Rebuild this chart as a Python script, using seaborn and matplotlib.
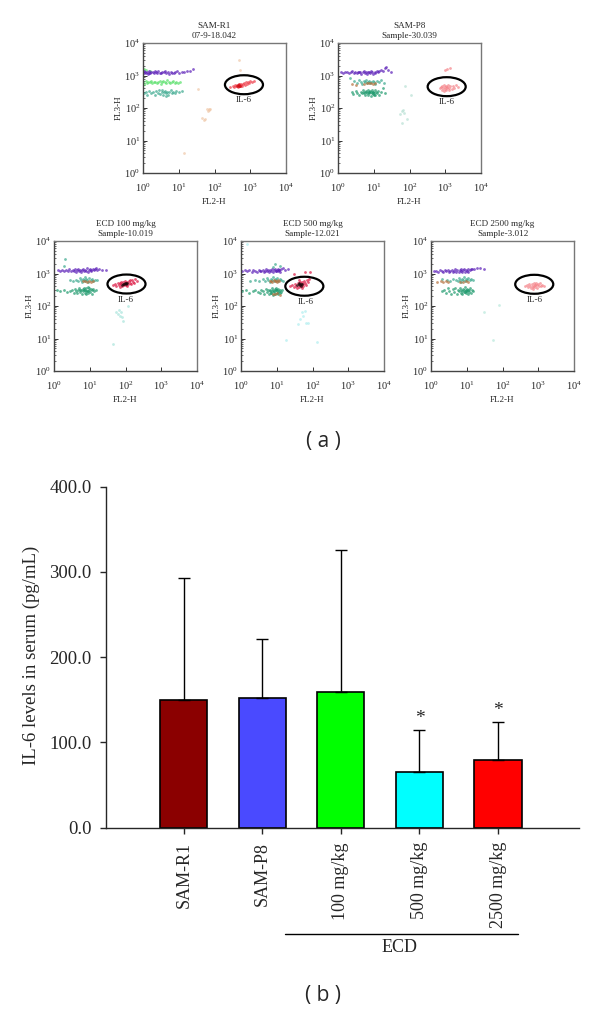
import matplotlib
matplotlib.use("Agg")
import matplotlib.pyplot as plt
import pandas as pd
import seaborn as sns
from matplotlib.patches import Ellipse
from matplotlib.lines import Line2D

# panel (a), dot clusters
r1_purple_x = [1.0, 1.05, 1.1, 1.15, 1.2, 1.3, 1.35, 1.45, 1.5, 1.6, 1.7, 1.85, 2.0, 2.1, 2.3, 2.4, 2.7, 2.9, 3.1, 3.4, 3.8, 4.1, 4.5, 5.0, 5.4, 6.0, 6.6, 7.2, 8.0, 9.0, 10, 12, 14, 17, 20, 25]
r1_purple_y = [1250, 1400, 1180, 1320, 1210, 1280, 1150, 1350, 1230, 1190, 1300, 1240, 1170, 1420, 1260, 1200, 1330, 1220, 1160, 1290, 1240, 1380, 1200, 1270, 1150, 1310, 1230, 1190, 1260, 1340, 1220, 1300, 1280, 1420, 1380, 1550]
r1_mid_x = [1.0, 1.1, 1.2, 1.3, 1.4, 1.55, 1.7, 1.8, 2.0, 2.2, 2.4, 2.6, 2.9, 3.1, 3.4, 3.7, 4.0, 4.4, 4.8, 5.2, 5.7, 6.3, 7.0, 7.8, 8.6, 9.5, 11, 1.2, 1.6, 1.1]
r1_mid_y = [620, 560, 660, 590, 640, 610, 680, 570, 620, 650, 590, 630, 700, 560, 610, 660, 620, 590, 720, 640, 580, 620, 690, 600, 640, 580, 620, 1500, 1420, 1600]
r1_low_x = [1.05, 1.2, 1.3, 1.5, 1.7, 1.9, 2.1, 2.3, 2.6, 2.8, 3.0, 3.3, 3.6, 3.9, 4.2, 4.5, 4.8, 5.1, 5.5, 5.9, 6.4, 7.0, 7.7, 8.6, 10, 12, 3.4, 4.4]
r1_low_y = [290, 310, 260, 330, 280, 300, 250, 340, 290, 360, 270, 310, 260, 300, 340, 280, 320, 260, 300, 350, 280, 320, 290, 340, 300, 330, 370, 240]
r1_il6_x = [280, 320, 350, 370, 400, 420, 440, 460, 470, 490, 500, 520, 540, 560, 590, 620, 660, 700, 750, 800, 860, 930, 1000, 1100, 1300, 480, 510, 450]
r1_il6_y = [430, 470, 440, 500, 460, 520, 480, 450, 530, 490, 540, 470, 510, 560, 490, 540, 580, 520, 620, 560, 640, 600, 680, 630, 700, 500, 470, 490]
r1_core_x = [430, 460, 480, 500, 520]
r1_core_y = [480, 500, 470, 520, 490]
r1_stray_x = [60, 65, 70, 72, 75, 45, 55, 50, 14, 35, 500, 520]
r1_stray_y = [90, 80, 95, 85, 90, 50, 45, 42, 4, 380, 3000, 1500]

p8_purple_x = [1.2, 1.4, 1.6, 1.8, 2.0, 2.3, 2.5, 2.8, 3.0, 3.3, 3.6, 3.9, 4.2, 4.5, 4.9, 5.3, 5.7, 6.1, 6.6, 7.0, 7.5, 8.0, 8.6, 9.2, 9.8, 10.5, 11, 12, 13, 14, 16, 18, 20, 22, 25, 30]
p8_purple_y = [1280, 1230, 1320, 1250, 1200, 1290, 1350, 1220, 1270, 1180, 1320, 1240, 1290, 1150, 1260, 1340, 1200, 1280, 1130, 1310, 1240, 1180, 1330, 1260, 1150, 1290, 1210, 1350, 1260, 1400, 1500, 1350, 1650, 1800, 1450, 1250]
p8_mid_x = [2.2, 2.8, 3.3, 3.8, 4.3, 4.8, 5.2, 5.6, 6.0, 6.4, 6.9, 7.4, 8.0, 8.6, 9.3, 10, 11, 12, 14, 16, 19]
p8_mid_y = [820, 680, 600, 740, 640, 560, 680, 610, 720, 590, 650, 700, 570, 630, 680, 610, 560, 660, 620, 720, 580]
p8_brown_x = [2.5, 3.2, 5.5, 6.5, 7.5, 8.5, 9.5, 11]
p8_brown_y = [560, 520, 560, 590, 570, 600, 550, 580]
p8_low_x = [2.4, 2.7, 3.1, 3.5, 3.9, 4.3, 4.6, 5.0, 5.3, 5.7, 6.0, 6.4, 6.7, 7.0, 7.3, 7.6, 8.0, 8.3, 8.6, 9.0, 9.3, 9.6, 10, 10.5, 11, 11.5, 12, 13, 14, 16, 18, 20, 7.2, 8.8, 9.4, 10.2, 6.2, 5.5]
p8_low_y = [300, 270, 330, 290, 250, 320, 280, 350, 300, 260, 330, 290, 360, 250, 310, 280, 340, 300, 230, 360, 270, 320, 290, 350, 250, 310, 280, 340, 260, 320, 400, 280, 300, 280, 320, 260, 310, 290]
p8_il6_x = [700, 750, 800, 830, 860, 900, 930, 960, 1000, 1030, 1060, 1100, 1150, 1200, 1250, 1300, 1400, 1500, 1650, 1800, 2000, 2300, 1000, 1150, 1400]
p8_il6_y = [400, 450, 360, 480, 410, 340, 520, 430, 380, 470, 350, 440, 400, 500, 360, 420, 460, 390, 480, 420, 510, 440, 1500, 1600, 1650]
p8_stray_x = [60, 55, 70, 65, 85, 75, 110, 60]
p8_stray_y = [80, 65, 70, 85, 45, 480, 260, 35]

e100_purple_x = [1.3, 1.5, 1.7, 1.9, 2.2, 2.4, 2.7, 3.0, 3.3, 3.6, 3.9, 4.2, 4.5, 4.8, 5.1, 5.5, 5.8, 6.2, 6.6, 7.0, 7.4, 7.8, 8.3, 8.8, 9.3, 9.9, 10.5, 11, 12, 13, 14, 15, 16, 18, 22, 28]
e100_purple_y = [1250, 1220, 1300, 1190, 1270, 1210, 1330, 1180, 1290, 1230, 1350, 1150, 1260, 1380, 1200, 1310, 1120, 1270, 1400, 1190, 1320, 1230, 1440, 1150, 1280, 1370, 1210, 1300, 1420, 1240, 1360, 1450, 1300, 1380, 1250, 1320]
e100_mid_x = [2.8, 3.3, 4.0, 4.7, 5.2, 5.6, 6.0, 6.4, 6.8, 7.2, 7.6, 8.1, 8.6, 9.2, 9.8, 10.5, 11.5, 12.5, 14, 16, 2.0, 1.9]
e100_mid_y = [620, 590, 650, 600, 720, 650, 560, 700, 620, 760, 590, 680, 640, 560, 720, 620, 680, 590, 650, 620, 2800, 1700]
e100_brown_x = [6.5, 7.5, 8.5, 9.5, 11, 12]
e100_brown_y = [570, 600, 560, 590, 540, 570]
e100_low_x = [1.2, 1.5, 1.9, 2.3, 2.8, 3.2, 3.6, 3.9, 4.2, 4.5, 4.8, 5.1, 5.4, 5.7, 6.0, 6.3, 6.6, 6.9, 7.2, 7.5, 7.8, 8.1, 8.4, 8.7, 9.0, 9.4, 9.8, 10.2, 10.7, 11.2, 11.8, 12.5, 13.5, 15, 7.0, 8.0, 9.2, 5.5]
e100_low_y = [300, 280, 310, 270, 290, 320, 260, 340, 290, 250, 320, 360, 270, 310, 240, 340, 290, 370, 260, 320, 230, 350, 290, 380, 250, 310, 350, 270, 330, 240, 300, 340, 280, 310, 300, 290, 280, 310]
e100_il6_x = [45, 50, 55, 60, 65, 70, 72, 76, 80, 84, 88, 92, 96, 100, 106, 112, 118, 125, 132, 140, 150, 160, 170, 185, 205, 110, 130, 75]
e100_il6_y = [430, 470, 410, 500, 440, 390, 520, 460, 410, 550, 480, 430, 580, 500, 450, 540, 490, 600, 520, 470, 620, 560, 510, 680, 580, 400, 640, 560]
e100_core_x = [78, 84, 90, 95, 100, 105, 110]
e100_core_y = [450, 490, 470, 510, 480, 500, 520]
e100_stray_x = [55, 60, 65, 75, 85, 70, 80, 45, 120]
e100_stray_y = [65, 55, 75, 65, 35, 50, 45, 7, 100]

e500_purple_x = [1.1, 1.3, 1.5, 1.7, 2.0, 2.2, 2.5, 2.8, 3.1, 3.4, 3.7, 4.0, 4.3, 4.7, 5.0, 5.4, 5.8, 6.2, 6.6, 7.0, 7.5, 8.0, 8.5, 9.0, 9.5, 10, 10.5, 11, 11.5, 12, 13, 15, 17, 20, 9.8, 11.2]
e500_purple_y = [1200, 1240, 1180, 1260, 1150, 1290, 1200, 1130, 1310, 1210, 1160, 1280, 1120, 1230, 1330, 1180, 1250, 1110, 1290, 1200, 1350, 1140, 1260, 1380, 1170, 1300, 1210, 1400, 1260, 1150, 1330, 1450, 1250, 1350, 1200, 1280]
e500_mid_x = [1.8, 2.5, 3.2, 4.0, 4.7, 5.3, 5.8, 6.3, 6.8, 7.3, 7.8, 8.3, 8.9, 9.5, 10.2, 11, 12, 13.5, 15, 9.0, 8.0, 12]
e500_mid_y = [600, 640, 580, 660, 600, 720, 640, 560, 700, 620, 760, 590, 680, 640, 720, 600, 670, 620, 580, 2000, 1600, 1700]
e500_brown_x = [6.5, 7.0, 7.6, 8.2, 8.8, 9.4, 10, 10.8, 11.6, 8.0, 9.2, 10.4, 12]
e500_brown_y = [570, 600, 550, 620, 570, 600, 550, 610, 570, 240, 230, 250, 220]
e500_low_x = [1.1, 1.4, 1.7, 2.1, 2.5, 2.9, 3.3, 3.7, 4.1, 4.5, 4.9, 5.3, 5.6, 6.0, 6.3, 6.6, 6.9, 7.2, 7.5, 7.8, 8.1, 8.4, 8.7, 9.0, 9.3, 9.6, 9.9, 10.3, 10.7, 11.1, 11.5, 12, 12.6, 13.3, 14, 8.2, 9.5, 10.8, 7.0]
e500_low_y = [280, 300, 260, 290, 310, 270, 250, 320, 280, 240, 340, 270, 300, 230, 320, 280, 250, 350, 290, 220, 310, 270, 340, 240, 300, 360, 260, 310, 230, 340, 280, 250, 320, 270, 300, 280, 300, 270, 260]
e500_il6_x = [24, 27, 30, 32, 35, 37, 39, 41, 43, 45, 47, 49, 51, 53, 56, 59, 62, 66, 70, 75, 80, 42, 50, 85, 60, 30]
e500_il6_y = [410, 440, 390, 470, 420, 360, 500, 440, 380, 530, 460, 400, 560, 480, 420, 590, 500, 450, 620, 540, 680, 620, 350, 1100, 1150, 1000]
e500_core_x = [38, 41, 44, 47, 50, 43, 47]
e500_core_y = [430, 470, 450, 490, 460, 510, 420]
e500_stray_x = [50, 55, 60, 45, 40, 65, 75, 18, 130, 1.5]
e500_stray_y = [65, 50, 70, 40, 28, 30, 30, 9, 8, 8000]

e2500_purple_x = [1.2, 1.4, 1.6, 1.8, 2.0, 2.2, 2.4, 2.7, 2.9, 3.2, 3.5, 3.8, 4.1, 4.4, 4.8, 5.1, 5.5, 5.9, 6.3, 6.7, 7.1, 7.5, 8.0, 8.5, 9.0, 9.5, 10, 10.5, 11, 12, 13, 14, 16, 19, 24, 30]
e2500_purple_y = [1180, 1220, 1150, 1240, 1190, 1120, 1250, 1170, 1290, 1130, 1230, 1300, 1100, 1220, 1340, 1150, 1260, 1090, 1310, 1190, 1370, 1110, 1250, 1400, 1140, 1300, 1200, 1350, 1120, 1260, 1330, 1400, 1350, 1450, 1500, 1400]
e2500_mid_x = [2.0, 2.8, 3.5, 4.2, 5.0, 5.6, 6.1, 6.6, 7.1, 7.6, 8.1, 8.6, 9.1, 9.7, 10.3, 11, 12, 13, 15]
e2500_mid_y = [700, 620, 580, 680, 640, 600, 720, 640, 560, 700, 620, 760, 590, 680, 640, 720, 610, 670, 640]
e2500_brown_x = [1.5, 1.9, 2.2, 2.6, 3.0, 6.5, 8, 9.5, 11]
e2500_brown_y = [560, 570, 550, 580, 560, 560, 550, 570, 560]
e2500_low_x = [2.0, 2.3, 2.6, 2.9, 3.2, 3.6, 4.0, 4.4, 4.8, 5.2, 5.6, 6.0, 6.4, 6.7, 7.0, 7.3, 7.6, 8.0, 8.3, 8.6, 9.0, 9.3, 9.6, 10, 10.4, 10.8, 11.2, 11.7, 12.2, 13, 14, 15, 9.8, 11, 8.8]
e2500_low_y = [280, 320, 250, 360, 290, 230, 330, 270, 350, 240, 310, 280, 370, 250, 320, 290, 230, 340, 270, 300, 380, 250, 310, 280, 340, 230, 300, 270, 350, 260, 320, 280, 290, 300, 270]
e2500_il6_x = [420, 470, 520, 560, 600, 640, 670, 700, 730, 760, 790, 820, 860, 900, 950, 1000, 1060, 1120, 1200, 1300, 1450, 700, 800]
e2500_il6_y = [420, 440, 390, 460, 410, 360, 480, 420, 340, 500, 440, 380, 510, 430, 360, 470, 410, 500, 420, 450, 410, 390, 430]
e2500_stray_x = [30, 80, 55]
e2500_stray_y = [65, 110, 9]

# panel (b)
groups = ["SAM-R1", "SAM-P8", "100 mg/kg", "500 mg/kg", "2500 mg/kg"]
il6_mean = [149.5, 152, 159, 65.3, 79.8]
il6_upper = [292.5, 221.7, 326, 114.6, 124.3]
bar_colors = ["#8b0000", "#4a4aff", "#00ff00", "#00ffff", "#ff0000"]

PURPLE = "#5b1fb8"
GREEN = "#58e06a"
TEAL = "#3aa88e"
DEEP = "#1f9a6e"
BROWN = "#b5703c"
RED = "#ee3a48"
PINK = "#f58288"
CRIMSON = "#dc1440"
DARK = "#1a0508"

W, H = 600, 1011

panels = [
    {"box": (143, 43), "title": "SAM-R1\n07-9-18.042", "gate": (0.706, 0.679), "label": (0.706, 0.56),
     "dots": [(r1_low_x, r1_low_y, TEAL), (r1_mid_x, r1_mid_y, GREEN), (r1_purple_x, r1_purple_y, PURPLE),
              (r1_il6_x, r1_il6_y, RED), (r1_core_x, r1_core_y, "#d01018"), (r1_stray_x, r1_stray_y, "#f0c8a8")]},
    {"box": (338, 43), "title": "SAM-P8\nSample-30.039", "gate": (0.76, 0.664), "label": (0.76, 0.544),
     "dots": [(p8_low_x, p8_low_y, DEEP), (p8_mid_x, p8_mid_y, TEAL), (p8_brown_x, p8_brown_y, BROWN),
              (p8_purple_x, p8_purple_y, PURPLE), (p8_il6_x, p8_il6_y, PINK), (p8_stray_x, p8_stray_y, "#b8e0d4")]},
    {"box": (54, 241), "title": "ECD 100 mg/kg\nSample-10.019", "gate": (0.507, 0.669), "label": (0.5, 0.55),
     "dots": [(e100_low_x, e100_low_y, DEEP), (e100_mid_x, e100_mid_y, TEAL), (e100_brown_x, e100_brown_y, BROWN),
              (e100_purple_x, e100_purple_y, PURPLE), (e100_il6_x, e100_il6_y, CRIMSON),
              (e100_core_x, e100_core_y, DARK), (e100_stray_x, e100_stray_y, "#a8e4dc")]},
    {"box": (241, 241), "title": "ECD 500 mg/kg\nSample-12.021", "gate": (0.443, 0.652), "label": (0.45, 0.528),
     "dots": [(e500_low_x, e500_low_y, DEEP), (e500_mid_x, e500_mid_y, TEAL), (e500_brown_x, e500_brown_y, BROWN),
              (e500_purple_x, e500_purple_y, PURPLE), (e500_il6_x, e500_il6_y, CRIMSON),
              (e500_core_x, e500_core_y, DARK), (e500_stray_x, e500_stray_y, "#b0eef0")]},
    {"box": (431, 241), "title": "ECD 2500 mg/kg\nSample-3.012", "gate": (0.722, 0.667), "label": (0.722, 0.55),
     "dots": [(e2500_low_x, e2500_low_y, DEEP), (e2500_mid_x, e2500_mid_y, TEAL), (e2500_brown_x, e2500_brown_y, BROWN),
              (e2500_purple_x, e2500_purple_y, PURPLE), (e2500_il6_x, e2500_il6_y, PINK),
              (e2500_stray_x, e2500_stray_y, "#b8e8dc")]},
]


def pixel_axes(fig, left, top, width, height):
    return fig.add_axes([left / W, 1 - (top + height) / H, width / W, height / H])


def draw_panel(fig, panel):
    ax = pixel_axes(fig, panel["box"][0], panel["box"][1], 143, 130)
    for x, y, color in panel["dots"]:
        sns.scatterplot(x=x, y=y, color=color, s=4, linewidth=0, alpha=0.7, ax=ax)
    ax.set_xscale("log")
    ax.set_yscale("log")
    ax.set_xlim(1, 1e4)
    ax.set_ylim(1, 1e4)
    ax.set_xticks([1, 10, 100, 1000, 10000])
    ax.set_yticks([1, 10, 100, 1000, 10000])
    ax.tick_params(which="major", direction="in", length=3, width=0.7, labelsize=7.5, color="#333333")
    ax.tick_params(which="minor", direction="in", length=1.5, width=0.5, color="#333333")
    ax.tick_params(axis="x", which="major", pad=6)
    ax.tick_params(axis="y", which="major", pad=2)
    for name, spine in ax.spines.items():
        spine.set_visible(True)
        spine.set_linewidth(1.0)
        spine.set_color("#777777" if name in ("top", "right") else "#444444")
    ax.set_title(panel["title"], fontsize=6.6, pad=3.5, linespacing=1.3)
    ax.set_xlabel("FL2-H", fontsize=6.6, labelpad=3)
    ax.set_ylabel("FL3-H", fontsize=6.6, labelpad=1)
    ax.add_patch(Ellipse(panel["gate"], 0.266, 0.146, transform=ax.transAxes, fill=False, edgecolor="black", linewidth=1.6))
    ax.text(panel["label"][0], panel["label"][1], "IL-6", transform=ax.transAxes, fontsize=6.6, ha="center", va="center")


sns.set_theme(style="ticks")
plt.rcParams["font.family"] = ["Liberation Serif", "DejaVu Serif"]
plt.rcParams["mathtext.default"] = "regular"

fig = plt.figure(figsize=(W / 100, H / 100), dpi=100, facecolor="white")

for panel in panels:
    draw_panel(fig, panel)

ax = pixel_axes(fig, 106, 486.7, 473, 341)
df = pd.DataFrame({"group": groups, "mean": il6_mean})
sns.barplot(data=df, x="group", y="mean", hue="group", palette=bar_colors, saturation=1, dodge=False,
            width=0.6, edgecolor="black", linewidth=1.2, legend=False, ax=ax)
upper_err = [u - m for u, m in zip(il6_upper, il6_mean)]
ax.errorbar(range(len(groups)), il6_mean, yerr=[[0] * len(groups), upper_err], fmt="none", ecolor="black",
            elinewidth=1.0, capsize=4.3, capthick=1.0, zorder=1)
ax.set_xlim(-0.99, 5.03)
ax.set_ylim(0, 400)
ax.set_yticks([0, 100, 200, 300, 400])
ax.set_yticklabels(["0.0", "100.0", "200.0", "300.0", "400.0"])
ax.tick_params(axis="y", length=4.3, width=1, labelsize=13.5, pad=6)
ax.tick_params(axis="x", length=4.3, width=1, labelsize=13, pad=6)
plt.setp(ax.get_xticklabels(), rotation=90)
for name in ("top", "right"):
    ax.spines[name].set_visible(False)
for name in ("left", "bottom"):
    ax.spines[name].set_linewidth(1.0)
ax.set_xlabel("")
ax.set_ylabel("IL-6 levels in serum (pg/mL)", fontsize=13.5)
ax.yaxis.set_label_coords(-0.1395, 0.506)

ax.text(3, 128.3, "*", fontsize=14, ha="center", va="center")
ax.text(4, 137.3, "*", fontsize=14, ha="center", va="center")

# ECD bracket under the dose labels
trans = ax.get_xaxis_transform()
ax.add_line(Line2D([1.29, 4.26], [-0.3117, -0.3117], transform=trans, color="black", linewidth=1.0, clip_on=False))
ax.text(2.74, -0.352, "ECD", transform=trans, fontsize=13, ha="center", va="center")

fig.text(323 / W, 1 - 441 / H, "( a )", family="Open Sans", fontsize=15, ha="center", va="center")
fig.text(323 / W, 1 - 996 / H, "( b )", family="Open Sans", fontsize=15, ha="center", va="center")

fig.savefig("out.png", dpi=100)
